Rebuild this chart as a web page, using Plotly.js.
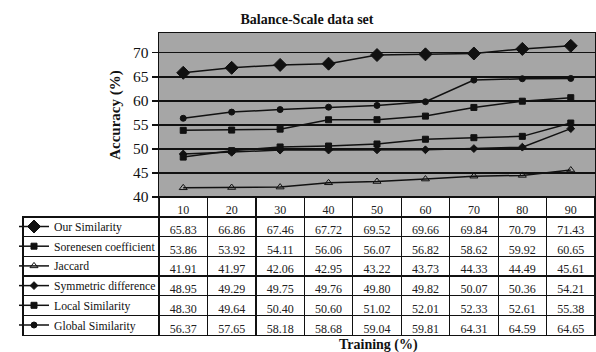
<!DOCTYPE html>
<html><head><meta charset="utf-8">
<script src="https://cdn.plot.ly/plotly-3.0.1.min.js"></script>
<style>body{margin:0;background:#fff}#c{width:596px;height:352px}</style>
</head><body><div id="c"></div>
<script>
const training = ['10','20','30','40','50','60','70','80','90'];
const seriesNames = ['Our Similarity','Sorenesen coefficient','Jaccard','Symmetric difference','Local Similarity','Global Similarity'];
const ourSimilarity = [65.83,66.86,67.46,67.72,69.52,69.66,69.84,70.79,71.43];
const sorenesen = [53.86,53.92,54.11,56.06,56.07,56.82,58.62,59.92,60.65];
const jaccard = [41.91,41.97,42.06,42.95,43.22,43.73,44.33,44.49,45.61];
const symmetric = [48.95,49.29,49.75,49.76,49.80,49.82,50.07,50.36,54.21];
const localSim = [48.30,49.64,50.40,50.60,51.02,52.01,52.33,52.61,55.38];
const globalSim = [56.37,57.65,58.18,58.68,59.04,59.81,64.31,64.59,64.65];
const allSeries = [ourSimilarity,sorenesen,jaccard,symmetric,localSim,globalSim];

const W=596,H=352;
const px=v=>v/W, py=v=>1-v/H;
const symbols = ['diamond','square','triangle-up-open','diamond','square','circle'];
const sizes = [10,6,7,6,6,6];
const serif = 'Liberation Serif, Times New Roman, serif';

const traces = allSeries.map((s,i)=>({
  type:'scatter', mode:'lines+markers', x:training, y:s, name:seriesNames[i],
  legendgroup:'g'+i,
  line:{color:'#111',width:1.5},
  marker:{symbol:symbols[i],size:sizes[i],color:'#111',line:{color:'#111',width:1}},
  xaxis:'x', yaxis:'y'
}));

const fmt = v=>v.toFixed(2);
const tableCols = [seriesNames.map(()=>'')].concat(training.map((t,j)=>allSeries.map(s=>fmt(s[j]))));
traces.push({
  type:'table',
  domain:{x:[px(23),px(595)], y:[0, py(197)]},
  columnwidth:[136].concat(training.map(()=>48.4)),
  header:{values:[''].concat(training), height:20, align:'center',
    fill:{color:['rgba(0,0,0,0)'].concat(training.map(()=>'#fff'))},
    line:{color:['rgba(0,0,0,0)'].concat(training.map(()=>'#111')),width:1.2},
    font:{family:serif,size:12,color:'#222'}},
  cells:{values:tableCols, height:19.7, align:'center',
    fill:{color:'#fff'}, line:{color:'#111',width:1.2},
    font:{family:serif,size:12,color:'#222'}}
});

const layout = {
  width:W,height:H,margin:{l:0,r:0,t:0,b:0},
  paper_bgcolor:'#fff', plot_bgcolor:'#a6a6a6',
  showlegend:true,
  legend:{x:px(14),y:py(212),xanchor:'left',yanchor:'top',bgcolor:'rgba(0,0,0,0)',
    traceorder:'grouped',tracegroupgap:0.7,
    font:{family:serif,size:11.7,color:'#111'},itemclick:false},
  title:{text:'<b>Balance-Scale data set</b>',x:px(307),xanchor:'center',y:py(19),yanchor:'middle',
    font:{family:serif,size:14,color:'#111'}},
  xaxis:{domain:[px(159),px(595)],type:'category',range:[-0.5,8.5],showticklabels:false,ticks:'',
    showgrid:false,zeroline:false,showline:true,linecolor:'#111',linewidth:1.5,mirror:true},
  yaxis:{domain:[py(197),py(33)],range:[40,74.1],tickvals:[40,45,50,55,60,65,70],
    ticks:'outside',ticklen:6,tickwidth:1.5,tickcolor:'#111',
    showgrid:true,gridcolor:'#111',gridwidth:1.5,zeroline:false,
    showline:true,linecolor:'#111',linewidth:1.5,mirror:true,
    tickfont:{family:serif,size:15.5,color:'#111'},
    title:{text:'<b>Accuracy (%)</b>',standoff:8,font:{family:serif,size:15,color:'#111'}}},
  annotations:[{text:'<b>Training (%)</b>',xref:'paper',yref:'paper',x:px(378),y:py(345),
    xanchor:'center',yanchor:'middle',showarrow:false,font:{family:serif,size:14,color:'#111'}}]
};
Plotly.newPlot('c',traces,layout,{displayModeBar:false,staticPlot:true});
</script></body></html>
